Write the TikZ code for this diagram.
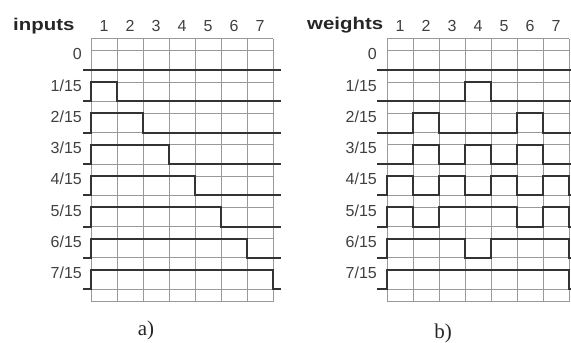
\documentclass[tikz,border=0pt]{standalone}
\usepackage{fontspec}
\usepackage{graphicx}
\setmainfont{Liberation Sans}
\newfontfamily\capfont{Liberation Serif}

% geometry of one panel (in px-sized pt)
\newcommand{\colw}{26}
\newcommand{\rowh}{31.3}
\newcommand{\hi}{19.3}

\begin{document}
\begin{tikzpicture}[x=1pt, y=-1pt,
    gridline/.style={draw=black!40, line width=0.8pt},
    sig/.style={draw=black!80, line width=2pt},
    lbl/.style={text=black!75, font=\fontsize{16}{16}\selectfont, inner sep=0pt},
    ttl/.style={text=black!85, font=\fontsize{17}{17}\selectfont\bfseries, inner sep=0pt, anchor=base west},
    captxt/.style={text=black!85, font=\capfont\fontsize{21}{21}\selectfont, inner sep=0pt}]
    \useasboundingbox (0,0) rectangle (571,343);

    % a) inputs
    \begin{scope}[xshift=91pt]
        \node[ttl] (tin) at (-78,30) {\scalebox{1.2}[1]{inputs}};
        \foreach \j in {0,...,7}
            \draw[gridline] ({\colw*\j},38.5) -- ({\colw*\j},301.6);
        \draw[gridline] (0,38.5) -- (182,38.5);
        \draw[gridline] (0,301.6) -- (182,301.6);
        \foreach \i in {0,...,7} {
            \draw[gridline] (0,{70+\rowh*\i}) -- (182,{70+\rowh*\i});
            \draw[gridline] (0,{70+\rowh*\i-\hi}) -- (182,{70+\rowh*\i-\hi});
            \node[lbl, anchor=east] (lin\i) at (-9,{70+\rowh*\i-16}) {\ifnum\i=0 0\else\i/15\fi};
        }
        \foreach \j in {1,...,7}
            \node[lbl, anchor=base] (cin\j) at ({\colw*(\j-0.5)},31.5) {\j};
        \foreach \i/\lv in {0/{0,0,0,0,0,0,0}, 1/{1,0,0,0,0,0,0}, 2/{1,1,0,0,0,0,0},
                            3/{1,1,1,0,0,0,0}, 4/{1,1,1,1,0,0,0}, 5/{1,1,1,1,1,0,0},
                            6/{1,1,1,1,1,1,0}, 7/{1,1,1,1,1,1,1}}
            \draw[sig] (-8,{70+\rowh*\i}) -- (0,{70+\rowh*\i})
                foreach \v [count=\j] in \lv {
                    -- ({\colw*(\j-1)},{70+\rowh*\i-\hi*\v}) -- ({\colw*\j},{70+\rowh*\i-\hi*\v})
                } -- (182,{70+\rowh*\i}) -- (190,{70+\rowh*\i});
    \end{scope}

    % b) weights
    \begin{scope}[xshift=387pt]
        \node[ttl] (twt) at (-80,29) {\scalebox{1.2}[1]{weights}};
        \foreach \j in {0,...,7}
            \draw[gridline] ({\colw*\j},38.5) -- ({\colw*\j},301.6);
        \draw[gridline] (0,38.5) -- (182,38.5);
        \draw[gridline] (0,301.6) -- (182,301.6);
        \foreach \i in {0,...,7} {
            \draw[gridline] (0,{70+\rowh*\i}) -- (182,{70+\rowh*\i});
            \draw[gridline] (0,{70+\rowh*\i-\hi}) -- (182,{70+\rowh*\i-\hi});
            \node[lbl, anchor=east] (lwt\i) at (-10,{70+\rowh*\i-16}) {\ifnum\i=0 0\else\i/15\fi};
        }
        \foreach \j in {1,...,7}
            \node[lbl, anchor=base] (cwt\j) at ({\colw*(\j-0.5)},31.5) {\j};
        \foreach \i/\lv in {0/{0,0,0,0,0,0,0}, 1/{0,0,0,1,0,0,0}, 2/{0,1,0,0,0,1,0},
                            3/{0,1,0,1,0,1,0}, 4/{1,0,1,0,1,0,1}, 5/{1,0,1,1,1,0,1},
                            6/{1,1,1,0,1,1,1}, 7/{1,1,1,1,1,1,1}}
            \draw[sig] (-10,{70+\rowh*\i}) -- (0,{70+\rowh*\i})
                foreach \v [count=\j] in \lv {
                    -- ({\colw*(\j-1)},{70+\rowh*\i-\hi*\v}) -- ({\colw*\j},{70+\rowh*\i-\hi*\v})
                } -- (182,{70+\rowh*\i}) -- (190,{70+\rowh*\i});
    \end{scope}

    \node[captxt] (ca) at (146,330) {a)};
    \node[captxt] (cb) at (443,333) {b)};
\end{tikzpicture}
\end{document}
